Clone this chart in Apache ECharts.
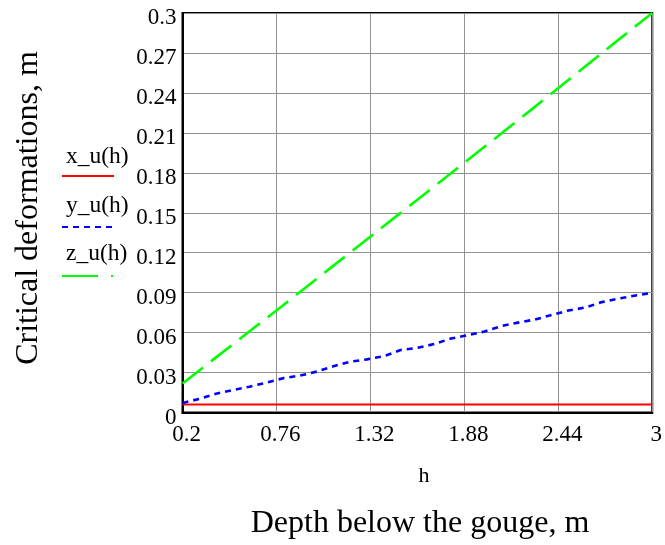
<!DOCTYPE html>
<html>
<head>
<meta charset="utf-8">
<script src="https://cdn.jsdelivr.net/npm/echarts@6/dist/echarts.min.js"></script>
<style>
  html, body { margin: 0; padding: 0; background: #fff; }
  #chart { width: 665px; height: 545px; }
</style>
</head>
<body>
<div id="chart"></div>
<script>
// Depth below the gouge, h (m)
const depthH = [0.2, 0.3, 0.4, 0.5, 0.6, 0.7, 0.8, 0.9, 1.0, 1.1, 1.2, 1.3, 1.4, 1.5, 1.6,
                1.7, 1.8, 1.9, 2.0, 2.1, 2.2, 2.3, 2.4, 2.5, 2.6, 2.7, 2.8, 2.9, 3.0];
// Critical deformations (m)
const xU = [0.006, 0.006, 0.006, 0.006, 0.006, 0.006, 0.006, 0.006, 0.006, 0.006, 0.006, 0.006, 0.006, 0.006, 0.006,
            0.006, 0.006, 0.006, 0.006, 0.006, 0.006, 0.006, 0.006, 0.006, 0.006, 0.006, 0.006, 0.006, 0.006];
const yU = [0.0072, 0.0102, 0.0141, 0.0168, 0.0194, 0.0224, 0.0258, 0.0277, 0.0307, 0.0348, 0.0382, 0.0399, 0.0423, 0.0469, 0.0485,
            0.0514, 0.0555, 0.0581, 0.0608, 0.0649, 0.0675, 0.0698, 0.0732, 0.0766, 0.0788, 0.0829, 0.0856, 0.0878, 0.0899];
const zU = [0.0218, 0.0316, 0.0414, 0.0512, 0.0610, 0.0708, 0.0806, 0.0905, 0.1004, 0.1103, 0.1202, 0.1301, 0.1400, 0.1499, 0.1598,
            0.1697, 0.1796, 0.1896, 0.1995, 0.2095, 0.2195, 0.2295, 0.2396, 0.2497, 0.2598, 0.2699, 0.2800, 0.2900, 0.3000];
// Axis ticks
const xTicks = [0.2, 0.76, 1.32, 1.88, 2.44, 3];
const yTicks = [0, 0.03, 0.06, 0.09, 0.12, 0.15, 0.18, 0.21, 0.24, 0.27, 0.3];
const seriesNames = ['x_u(h)', 'y_u(h)', 'z_u(h)'];

const FONT = '"Liberation Serif", "Times New Roman", serif';
const pairs = (ys) => depthH.map((h, i) => [h, ys[i]]);
const fmt = v => String(parseFloat(v.toFixed(2)));

const chart = echarts.init(document.getElementById('chart'), null, { renderer: 'canvas' });

// Legend: name above a short sample of each line
const legendItems = [
  { name: seriesNames[0], textY: 157, lineY: 176, color: '#ff0000', dash: null },
  { name: seriesNames[1], textY: 206, lineY: 227, color: '#0000ff', dash: [6, 5] },
  { name: seriesNames[2], textY: 254, lineY: 276, color: '#00ff00', dash: [36, 13, 2, 20] }
];
const legendGraphics = [];
legendItems.forEach(it => {
  legendGraphics.push({
    type: 'text', x: 66, y: it.textY,
    style: { text: it.name, font: '23.5px ' + FONT, fill: '#000', verticalAlign: 'middle' }
  });
  legendGraphics.push({
    type: 'line',
    shape: { x1: 62, y1: it.lineY, x2: 114, y2: it.lineY },
    style: { stroke: it.color, lineWidth: 2.2, lineDash: it.dash || null }
  });
});

chart.setOption({
  backgroundColor: '#fff',
  animation: false,
  grid: {
    left: 182.5, right: 9.5, top: 13, bottom: 132.5,
    show: true, borderColor: '#000', borderWidth: 2, backgroundColor: 'transparent'
  },
  xAxis: {
    type: 'value', min: 0.2, max: 3,
    axisLine: { show: true, onZero: false, lineStyle: { color: '#000', width: 2 } },
    axisTick: { show: false, customValues: xTicks },
    splitLine: { show: true, lineStyle: { color: '#909090', width: 1 } },
    axisLabel: {
      customValues: xTicks, margin: 11, color: '#000',
      fontFamily: FONT, fontSize: 23, padding: [0, 0, 0, 8],
      formatter: fmt
    }
  },
  yAxis: {
    type: 'value', min: 0, max: 0.3, interval: 0.03,
    axisLine: { show: true, lineStyle: { color: '#000', width: 2 } },
    axisTick: { show: false },
    splitLine: { show: true, lineStyle: { color: '#909090', width: 1 } },
    axisLabel: {
      margin: 6, color: '#000', fontFamily: FONT, fontSize: 23,
      verticalAlign: 'top', lineHeight: 10,
      formatter: fmt
    }
  },
  series: [
    {
      name: seriesNames[0], type: 'line', data: pairs(xU), showSymbol: false, z: 3,
      lineStyle: { color: '#ff0000', width: 2 }
    },
    {
      name: seriesNames[1], type: 'line', data: pairs(yU), showSymbol: false, z: 4,
      lineStyle: { color: '#0000ff', width: 2.6, type: [6, 5] }
    },
    {
      name: seriesNames[2], type: 'line', data: pairs(zU), showSymbol: false, z: 5,
      lineStyle: { color: '#00ff00', width: 2.6, type: [26, 10] }
    }
  ],
  graphic: [
    {
      type: 'text', x: 29, y: 208, rotation: Math.PI / 2,
      style: { text: 'Critical deformations, m', font: '32px ' + FONT, fill: '#000',
               align: 'center', verticalAlign: 'middle' }
    },
    {
      type: 'text', x: 424, y: 476,
      style: { text: 'h', font: '22px ' + FONT, fill: '#000', align: 'center', verticalAlign: 'middle' }
    },
    {
      type: 'text', x: 420, y: 524,
      style: { text: 'Depth below the gouge, m', font: '32px ' + FONT, fill: '#000',
               align: 'center', verticalAlign: 'middle' }
    }
  ].concat(legendGraphics)
});
</script>
</body>
</html>
